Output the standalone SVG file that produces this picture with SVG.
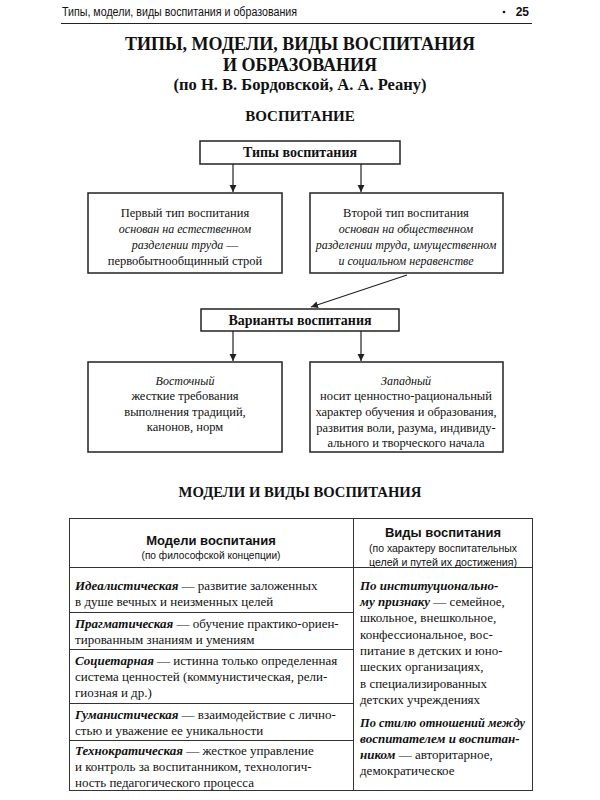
<svg xmlns="http://www.w3.org/2000/svg" width="600" height="800" viewBox="0 0 600 800">
<style>
.hd{font-size:12px;fill:#111}
.t{fill:#111;text-anchor:middle}
.tb{font-weight:bold}
.bx{font-size:12.5px}
.it{font-style:italic;font-size:12px}
.box{fill:#fff;stroke:#222;stroke-width:1.5}
.cn{stroke:#222;stroke-width:1.2;fill:none}
.tx{font-size:13px;fill:#111}
.bi{font-weight:bold;font-style:italic}
.th{fill:#111;text-anchor:middle}
.grid{stroke:#333;stroke-width:1;fill:none}
</style>
<defs>
<marker id="ar" viewBox="0 0 10 10" refX="10" refY="5" markerWidth="7" markerHeight="10" markerUnits="userSpaceOnUse" orient="auto">
<path d="M0,0 L10,5 L0,10 z" fill="#222"/>
</marker>
</defs>
<rect width="600" height="800" fill="#fff"/>
<g id="header" font-family="Liberation Sans, Arial, sans-serif">
<text class="hd" x="62" y="16" textLength="235" lengthAdjust="spacingAndGlyphs">Типы, модели, виды воспитания и образования</text>
<text class="hd" x="529" y="16" text-anchor="end" font-weight="bold" font-size="13">25</text>
<circle cx="504" cy="12" r="1.3" fill="#111"/>
<line x1="61" y1="23.5" x2="532" y2="23.5" stroke="#222" stroke-width="1.2"/>
</g>
<g id="serif" font-family="Liberation Serif, Times New Roman, Times, Noto Serif, DejaVu Serif, serif">
<g id="title">
<text class="t tb" x="300" y="50" font-size="18">ТИПЫ, МОДЕЛИ, ВИДЫ ВОСПИТАНИЯ</text>
<text class="t tb" x="300" y="71" font-size="18">И ОБРАЗОВАНИЯ</text>
<text class="t tb" x="300" y="90" font-size="16.5">(по Н. В. Бордовской, А. А. Реану)</text>
<text class="t tb" x="300" y="121" font-size="15">ВОСПИТАНИЕ</text>
</g>
<g id="connectors">
<line class="cn" x1="233" y1="164" x2="233" y2="192" marker-end="url(#ar)"/>
<line class="cn" x1="361" y1="164" x2="361" y2="192" marker-end="url(#ar)"/>
<line class="cn" x1="407" y1="275" x2="311" y2="307" marker-end="url(#ar)"/>
<line class="cn" x1="233" y1="331" x2="233" y2="361" marker-end="url(#ar)"/>
<line class="cn" x1="361" y1="331" x2="361" y2="361" marker-end="url(#ar)"/>
</g>
<g id="types">
<rect class="box" x="200" y="141" width="200" height="23"/>
<text class="t tb" x="300" y="157" font-size="14">Типы воспитания</text>
</g>
<g id="type1">
<rect class="box" x="88" y="193" width="194" height="80"/>
<text class="t bx" x="185" y="217">Первый тип воспитания</text>
<text class="t it" x="185" y="233">основан на естественном</text>
<text class="t it" x="185" y="249">разделении труда <tspan font-style="normal">—</tspan></text>
<text class="t bx" x="185" y="265">первобытнообщинный строй</text>
</g>
<g id="type2">
<rect class="box" x="310" y="193" width="193" height="80"/>
<text class="t bx" x="406" y="217">Второй тип воспитания</text>
<text class="t it" x="406" y="233">основан на общественном</text>
<text class="t it" x="406" y="249">разделении труда, имущественном</text>
<text class="t it" x="406" y="265">и социальном неравенстве</text>
</g>
<g id="variants">
<rect class="box" x="201" y="309" width="198" height="22"/>
<text class="t tb" x="300" y="325" font-size="14">Варианты воспитания</text>
</g>
<g id="east">
<rect class="box" x="88" y="362" width="194" height="90"/>
<text class="t it" x="185" y="385" font-size="12.5">Восточный</text>
<text class="t bx" x="185" y="400">жесткие требования</text>
<text class="t bx" x="185" y="416">выполнения традиций,</text>
<text class="t bx" x="185" y="431">канонов, норм</text>
</g>
<g id="west">
<rect class="box" x="310" y="362" width="193" height="90"/>
<text class="t it" x="406" y="385" font-size="12.5">Западный</text>
<text class="t bx" x="406" y="400">носит ценностно-рациональный</text>
<text class="t bx" x="406" y="416">характер обучения и образования,</text>
<text class="t bx" x="406" y="432">развития воли, разума, индивиду-</text>
<text class="t bx" x="406" y="447">ального и творческого начала</text>
</g>
<g id="table">
<text class="t tb" x="300" y="497" font-size="14.7">МОДЕЛИ И ВИДЫ ВОСПИТАНИЯ</text>
<rect class="grid" x="69.5" y="518.5" width="463" height="272"/>
<line class="grid" x1="353.5" y1="518" x2="353.5" y2="791"/>
<line class="grid" x1="69" y1="567.5" x2="533" y2="567.5"/>
<line class="grid" x1="69" y1="612.5" x2="353" y2="612.5"/>
<line class="grid" x1="69" y1="649.5" x2="353" y2="649.5"/>
<line class="grid" x1="69" y1="703.5" x2="353" y2="703.5"/>
<line class="grid" x1="69" y1="740.5" x2="353" y2="740.5"/>
<g font-family="Liberation Sans, Arial, sans-serif">
<text class="th" x="211" y="545" font-size="13" font-weight="bold">Модели воспитания</text>
<text class="th" x="211" y="559" font-size="11" textLength="139" lengthAdjust="spacingAndGlyphs">(по философской концепции)</text>
<text class="th" x="443" y="537" font-size="13" font-weight="bold">Виды воспитания</text>
<text class="th" x="443" y="552" font-size="11" textLength="148" lengthAdjust="spacingAndGlyphs">(по характеру воспитательных</text>
<text class="th" x="443" y="566" font-size="11" textLength="148" lengthAdjust="spacingAndGlyphs">целей и путей их достижения)</text>
</g>
<text class="tx" x="75" y="590"><tspan class="bi">Идеалистическая</tspan> — развитие заложенных</text>
<text class="tx" x="75" y="606">в душе вечных и неизменных целей</text>
<text class="tx" x="75" y="628"><tspan class="bi">Прагматическая</tspan> — обучение практико-ориен-</text>
<text class="tx" x="75" y="644">тированным знаниям и умениям</text>
<text class="tx" x="75" y="665"><tspan class="bi">Социетарная</tspan> — истинна только определенная</text>
<text class="tx" x="75" y="681">система ценностей (коммунистическая, рели-</text>
<text class="tx" x="75" y="697">гиозная и др.)</text>
<text class="tx" x="75" y="719"><tspan class="bi">Гуманистическая</tspan> — взаимодействие с лично-</text>
<text class="tx" x="75" y="735">стью и уважение ее уникальности</text>
<text class="tx" x="75" y="755"><tspan class="bi">Технократическая</tspan> — жесткое управление</text>
<text class="tx" x="75" y="771">и контроль за воспитанником, технологич-</text>
<text class="tx" x="75" y="787">ность педагогического процесса</text>
<text class="tx" x="360" y="590"><tspan class="bi">По институционально-</tspan></text>
<text class="tx" x="360" y="606"><tspan class="bi">му признаку</tspan> — семейное,</text>
<text class="tx" x="360" y="622">школьное, внешкольное,</text>
<text class="tx" x="360" y="639">конфессиональное, вос-</text>
<text class="tx" x="360" y="655">питание в детских и юно-</text>
<text class="tx" x="360" y="671">шеских организациях,</text>
<text class="tx" x="360" y="688">в специализированных</text>
<text class="tx" x="360" y="704">детских учреждениях</text>
<text class="tx" x="360" y="727" textLength="165" lengthAdjust="spacingAndGlyphs"><tspan class="bi">По стилю отношений между</tspan></text>
<text class="tx" x="360" y="743"><tspan class="bi">воспитателем и воспитан-</tspan></text>
<text class="tx" x="360" y="759"><tspan class="bi">ником</tspan> — авторитарное,</text>
<text class="tx" x="360" y="775">демократическое</text>
</g>
</g>
</svg>
